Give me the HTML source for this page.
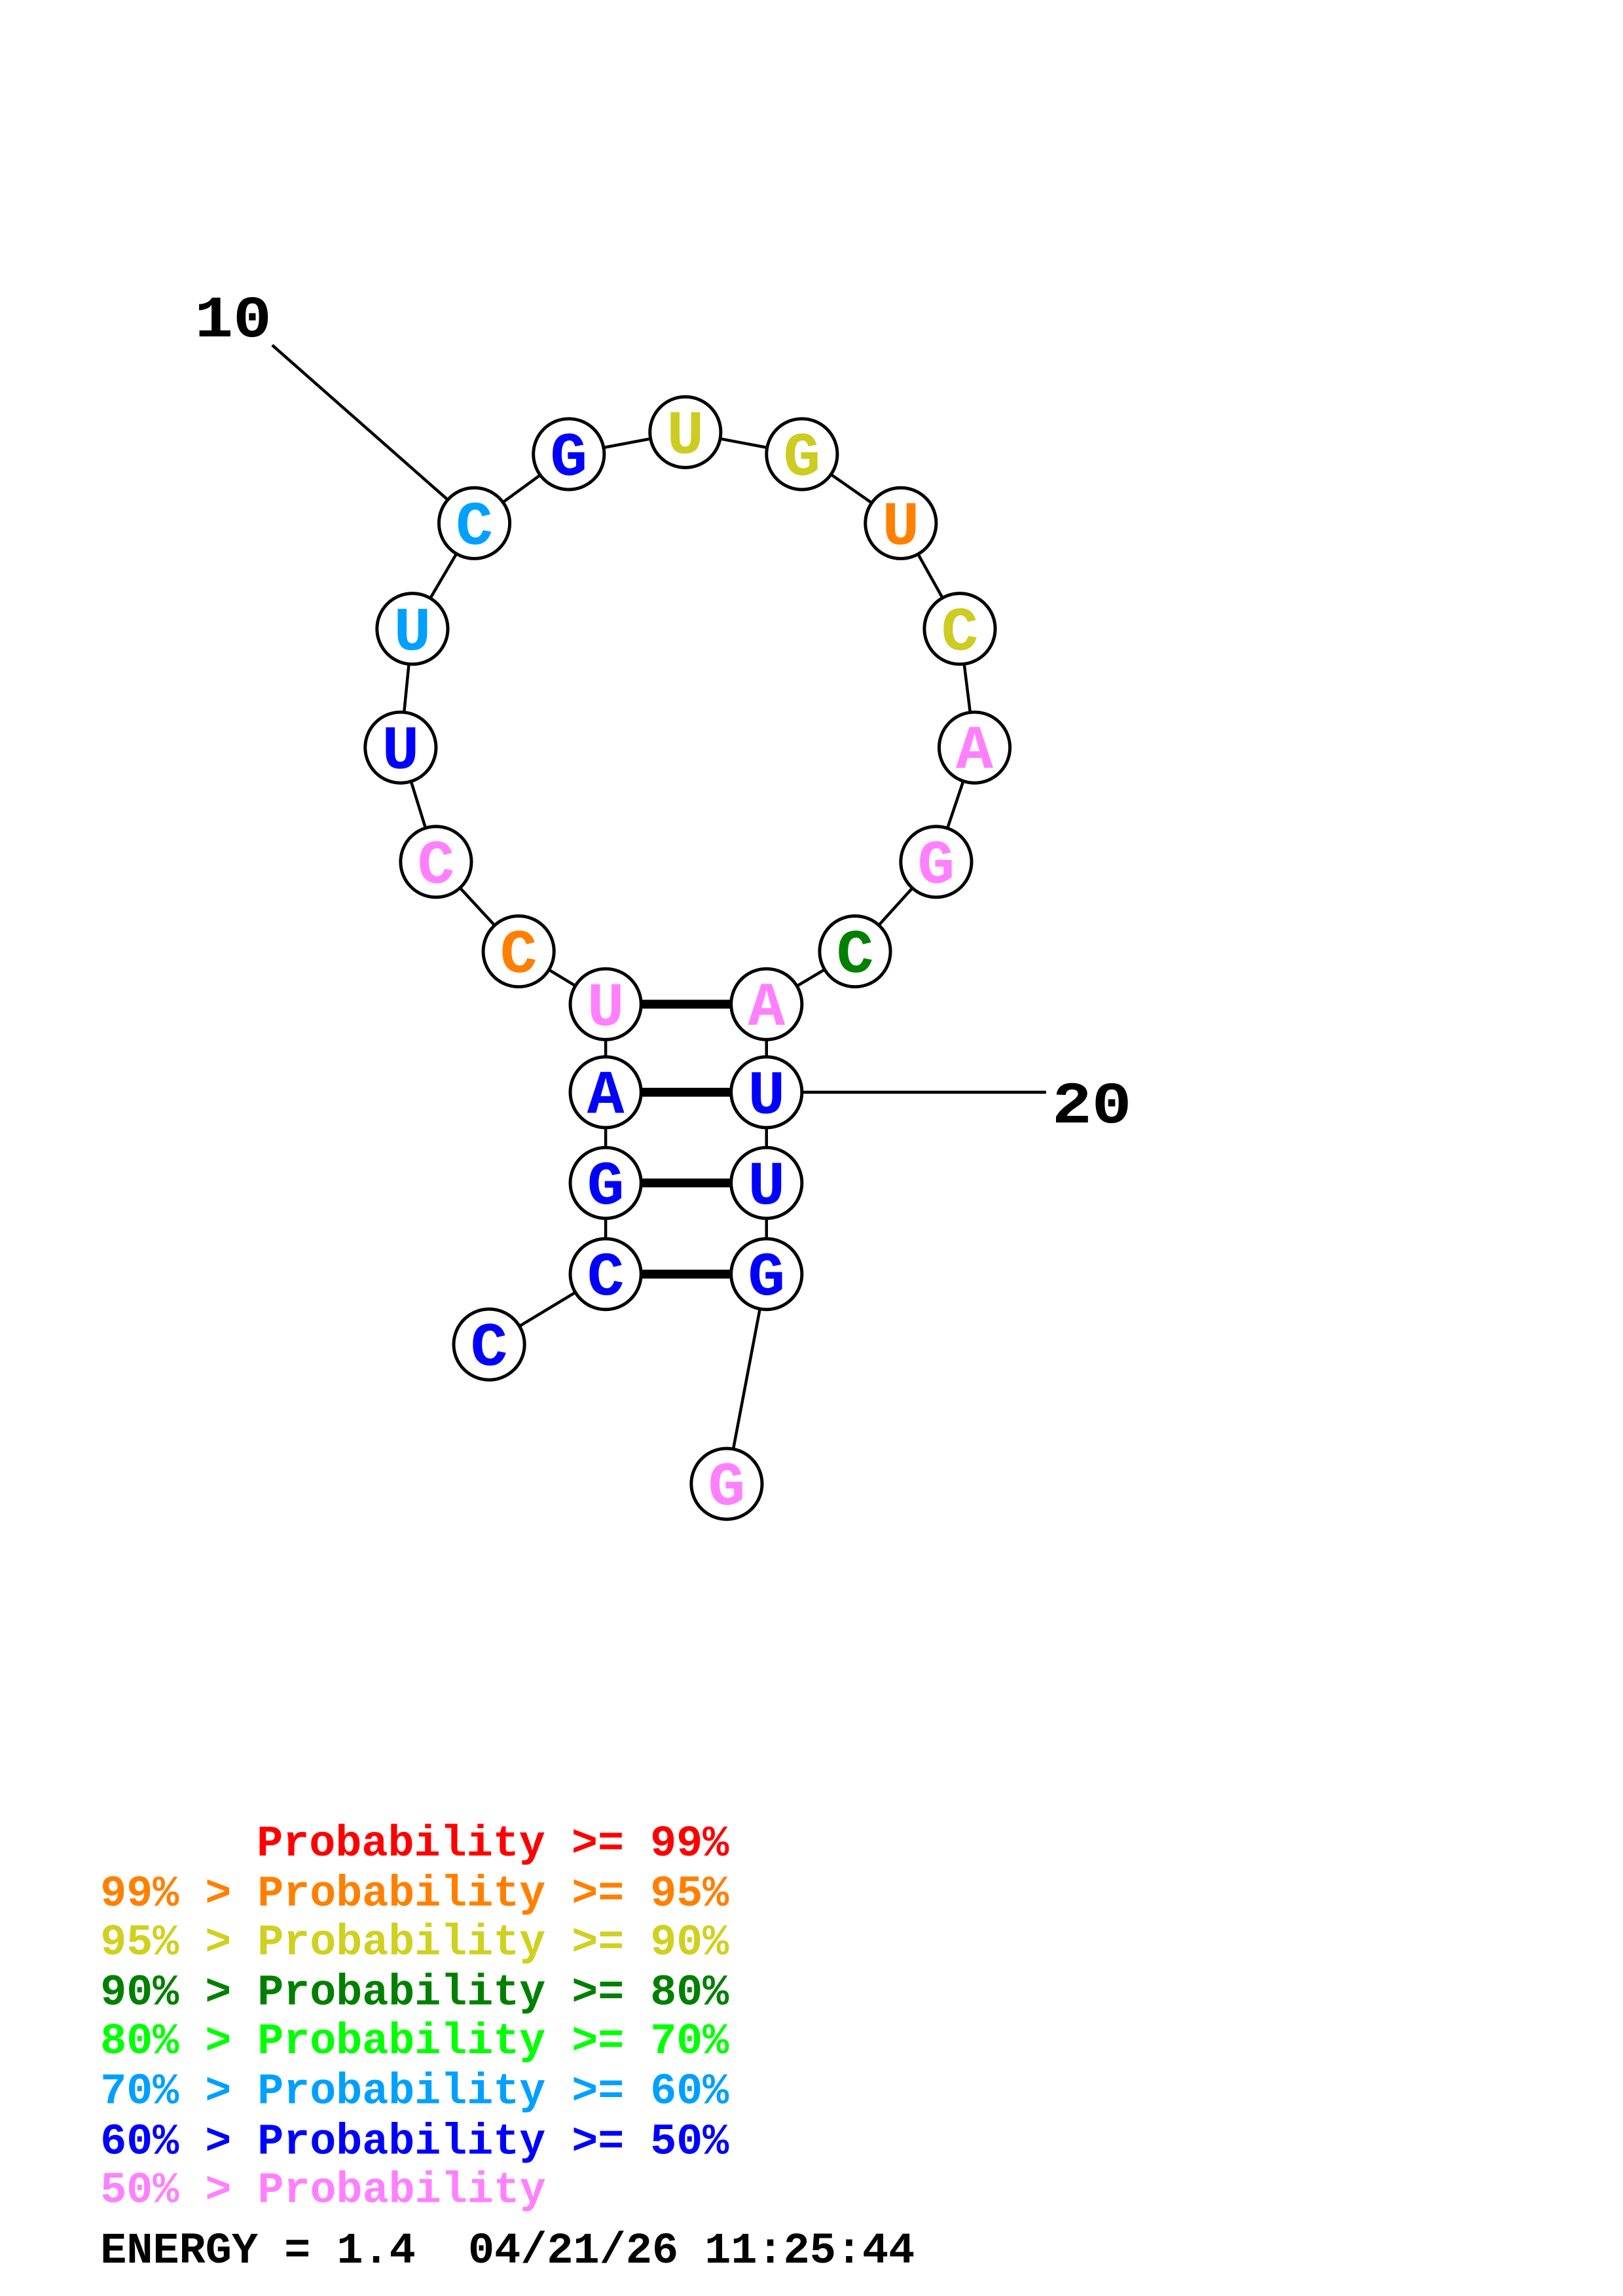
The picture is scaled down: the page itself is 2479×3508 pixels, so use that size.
<!DOCTYPE html>
<html><head><meta charset="utf-8"><style>
html,body{margin:0;padding:0;background:#fff}
svg{display:block}
.n{font-family:"Liberation Mono","Courier New",monospace;font-weight:bold;font-size:42px;text-anchor:middle}
.l{font-family:"Liberation Mono","Courier New",monospace;font-weight:bold;font-size:29.6px;white-space:pre}
</style></head><body>
<svg width="2479" height="3508" viewBox="0 0 1100 1556.6" xmlns="http://www.w3.org/2000/svg">
<g stroke="#000" stroke-width="2" fill="none">
<line x1="184.5" y1="234" x2="321.5" y2="354.7"/>
<line x1="519.5" y1="740.5" x2="709" y2="740.5"/>
<polyline points="331.5,911.5 410.5,863.8 410.5,802 410.5,740.5 410.5,680.8 351.5,645 295.5,584.3 271.5,506.8 279.5,426.3 321.5,354.7 385.5,307.9 464.5,293 543.5,307.9 610.5,354.7 650.5,426.3 660.5,506.8 634.5,584.3 579.5,645 519.5,680.8 519.5,740.5 519.5,802 519.5,863.8 492.5,1006"/>
</g>
<g stroke="#000" stroke-width="6">
<line x1="410.5" y1="680.8" x2="519.5" y2="680.8"/>
<line x1="410.5" y1="740.5" x2="519.5" y2="740.5"/>
<line x1="410.5" y1="802" x2="519.5" y2="802"/>
<line x1="410.5" y1="863.8" x2="519.5" y2="863.8"/>
</g>
<g fill="#fff" stroke="#000" stroke-width="2.2">
<circle cx="331.5" cy="911.5" r="24"/><circle cx="410.5" cy="863.8" r="24"/><circle cx="410.5" cy="802" r="24"/><circle cx="410.5" cy="740.5" r="24"/><circle cx="410.5" cy="680.8" r="24"/><circle cx="351.5" cy="645" r="24"/><circle cx="295.5" cy="584.3" r="24"/><circle cx="271.5" cy="506.8" r="24"/><circle cx="279.5" cy="426.3" r="24"/><circle cx="321.5" cy="354.7" r="24"/><circle cx="385.5" cy="307.9" r="24"/><circle cx="464.5" cy="293" r="24"/><circle cx="543.5" cy="307.9" r="24"/><circle cx="610.5" cy="354.7" r="24"/><circle cx="650.5" cy="426.3" r="24"/><circle cx="660.5" cy="506.8" r="24"/><circle cx="634.5" cy="584.3" r="24"/><circle cx="579.5" cy="645" r="24"/><circle cx="519.5" cy="680.8" r="24"/><circle cx="519.5" cy="740.5" r="24"/><circle cx="519.5" cy="802" r="24"/><circle cx="519.5" cy="863.8" r="24"/><circle cx="492.5" cy="1006" r="24"/>
</g>
<g class="n">
<text x="331.5" y="925.5" fill="#0000ff">C</text>
<text x="410.5" y="877.8" fill="#0000ff">C</text>
<text x="410.5" y="816" fill="#0000ff">G</text>
<text x="410.5" y="754.5" fill="#0000ff">A</text>
<text x="410.5" y="694.8" fill="#ff80ff">U</text>
<text x="351.5" y="659" fill="#ff8000">C</text>
<text x="295.5" y="598.3" fill="#ff80ff">C</text>
<text x="271.5" y="520.8" fill="#0000ff">U</text>
<text x="279.5" y="440.3" fill="#00a0ff">U</text>
<text x="321.5" y="368.7" fill="#00a0ff">C</text>
<text x="385.5" y="321.9" fill="#0000ff">G</text>
<text x="464.5" y="307" fill="#cccc22">U</text>
<text x="543.5" y="321.9" fill="#cccc22">G</text>
<text x="610.5" y="368.7" fill="#ff8000">U</text>
<text x="650.5" y="440.3" fill="#cccc22">C</text>
<text x="660.5" y="520.8" fill="#ff80ff">A</text>
<text x="634.5" y="598.3" fill="#ff80ff">G</text>
<text x="579.5" y="659" fill="#008000">C</text>
<text x="519.5" y="694.8" fill="#ff80ff">A</text>
<text x="519.5" y="754.5" fill="#0000ff">U</text>
<text x="519.5" y="816" fill="#0000ff">U</text>
<text x="519.5" y="877.8" fill="#0000ff">G</text>
<text x="492.5" y="1020" fill="#ff80ff">G</text>
</g>
<text class="l" x="132" y="228" style="font-size:40px" textLength="52" lengthAdjust="spacingAndGlyphs" fill="#000">10</text>
<text class="l" x="713" y="761" style="font-size:40px" textLength="54" lengthAdjust="spacingAndGlyphs" fill="#000">20</text>
<g class="l">
<text x="174" y="1258" fill="#ff0000" textLength="320" lengthAdjust="spacingAndGlyphs">Probability &gt;= 99%</text>
<text x="68" y="1292" fill="#ff8000" textLength="426" lengthAdjust="spacingAndGlyphs">99% &gt; Probability &gt;= 95%</text>
<text x="68" y="1325" fill="#d0d020" textLength="426" lengthAdjust="spacingAndGlyphs">95% &gt; Probability &gt;= 90%</text>
<text x="68" y="1359" fill="#008000" textLength="426" lengthAdjust="spacingAndGlyphs">90% &gt; Probability &gt;= 80%</text>
<text x="68" y="1392" fill="#00ff00" textLength="426" lengthAdjust="spacingAndGlyphs">80% &gt; Probability &gt;= 70%</text>
<text x="68" y="1426" fill="#00a0ff" textLength="426" lengthAdjust="spacingAndGlyphs">70% &gt; Probability &gt;= 60%</text>
<text x="68" y="1460" fill="#0000ff" textLength="426" lengthAdjust="spacingAndGlyphs">60% &gt; Probability &gt;= 50%</text>
<text x="68" y="1493" fill="#ff80ff" textLength="302" lengthAdjust="spacingAndGlyphs">50% &gt; Probability</text>
<text x="68" y="1534" fill="#000" textLength="552" lengthAdjust="spacingAndGlyphs">ENERGY = 1.4&#160;&#160;04/21/26 11:25:44</text>
</g>
</svg>
</body></html>
